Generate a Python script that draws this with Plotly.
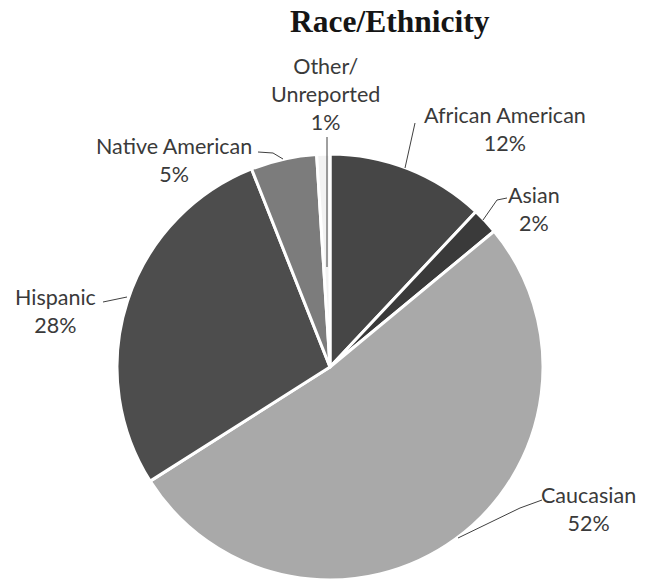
import plotly.graph_objects as go

# Race/ethnicity breakdown (percent)
categories = ["African American", "Asian", "Caucasian", "Hispanic",
              "Native American", "Other/<br>Unreported"]
shares = [12, 2, 52, 28, 5, 1]
slice_colors = ["#464646", "#3a3a3a", "#a9a9a9", "#4d4d4d", "#7c7c7c", "#f2f2f2"]

W, H = 645, 581
CX, CY, R = 330, 367, 213   # pie centre and radius in pixels


def px(x):
    return x / W


def py(y):
    return 1 - y / H


fig = go.Figure(go.Pie(
    labels=categories,
    values=shares,
    sort=False,
    direction="clockwise",
    rotation=0,
    textinfo="none",
    hoverinfo="label+percent",
    marker=dict(colors=slice_colors, line=dict(color="white", width=3)),
    domain=dict(x=[px(CX - R), px(CX + R)], y=[py(CY + R), py(CY - R)]),
    showlegend=False,
))

label_font = dict(family="Lato, Noto Sans, sans-serif", size=21.5, color="#3a3a3a")

# label anchor (centre, px) and leader-line path (px) for each slice
label_pos = {
    "African American": (505, 129),
    "Asian": (534, 209),
    "Caucasian": (588, 509),
    "Hispanic": (55, 311),
    "Native American": (174, 160),
    "Other/<br>Unreported": (325, 94),
}
leaders = {
    "African American": [(415, 123), (405, 168)],
    "Asian": [(507, 198), (497, 200), (483, 220)],
    "Caucasian": [(542, 500), (520, 508), (458, 538)],
    "Hispanic": [(103, 302), (127, 297)],
    "Native American": [(258, 152), (273, 153), (283, 159)],
    "Other/<br>Unreported": [(327, 137), (327, 267)],
}

for name, pct in zip(categories, shares):
    x, y = label_pos[name]
    fig.add_annotation(
        x=px(x), y=py(y), xref="paper", yref="paper",
        text=f"{name}<br>{pct}%", showarrow=False,
        font=label_font, align="center", xanchor="center", yanchor="middle",
    )
    pts = leaders[name]
    path = "M " + " L ".join(f"{px(a)},{py(b)}" for a, b in pts)
    fig.add_shape(type="path", path=path, xref="paper", yref="paper",
                  line=dict(color="#404040", width=1))

fig.add_annotation(
    x=px(390), y=py(22), xref="paper", yref="paper",
    text="<b>Race/Ethnicity</b>", showarrow=False,
    font=dict(family="Liberation Serif, Times New Roman, serif", size=31.5, color="#151515"),
    xanchor="center", yanchor="middle",
)

fig.update_layout(
    width=W, height=H,
    margin=dict(l=0, r=0, t=0, b=0),
    paper_bgcolor="white",
    plot_bgcolor="white",
)

fig.write_html("out.html")
